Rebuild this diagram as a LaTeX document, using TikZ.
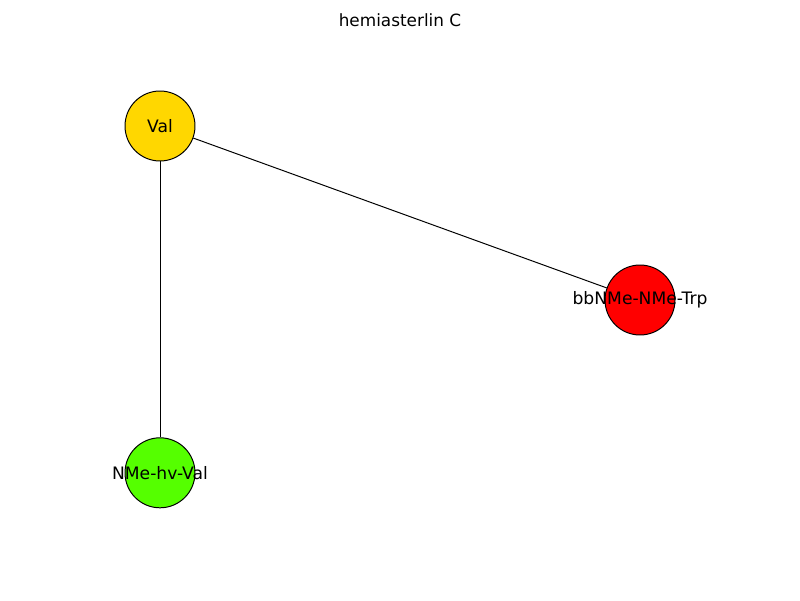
\documentclass[tikz,border=0pt]{standalone}
\usepackage{fontspec}
\setmainfont{DejaVu Sans}
\usepackage{tikz}

\definecolor{valgold}{RGB}{255,215,0}
\definecolor{trpred}{RGB}{255,0,0}
\definecolor{hvgreen}{RGB}{85,255,0}

\tikzset{
  residue/.style={circle, draw=black, line width=0.7pt, minimum size=1.75cm, inner sep=0pt, font=\fontsize{12.2}{14}\selectfont},
  bond/.style={draw=black, line width=0.7pt}
}

\begin{document}
\begin{tikzpicture}
            \useasboundingbox (0.00,0.00) rectangle (20.00,15.00);
            \node[font=\fontsize{12}{14}\selectfont] (title) at (10.00,14.50) {hemiasterlin C};

            \node[residue, fill=valgold] (val) at (4.00,11.85) {Val};
            \node[residue, fill=trpred] (trp) at (16.00,7.50) {};
            \node[residue, fill=hvgreen] (hvval) at (4.00,3.18) {};

            \draw[bond] (val) -- (trp);
            \draw[bond] (val) -- (hvval);

            \node[font=\fontsize{12.2}{14}\selectfont] (trplabel) at (trp) {bbNMe-NMe-Trp};
            \node[font=\fontsize{12.2}{14}\selectfont] (hvlabel) at (hvval) {NMe-hv-Val};

        \end{tikzpicture}
\end{document}
